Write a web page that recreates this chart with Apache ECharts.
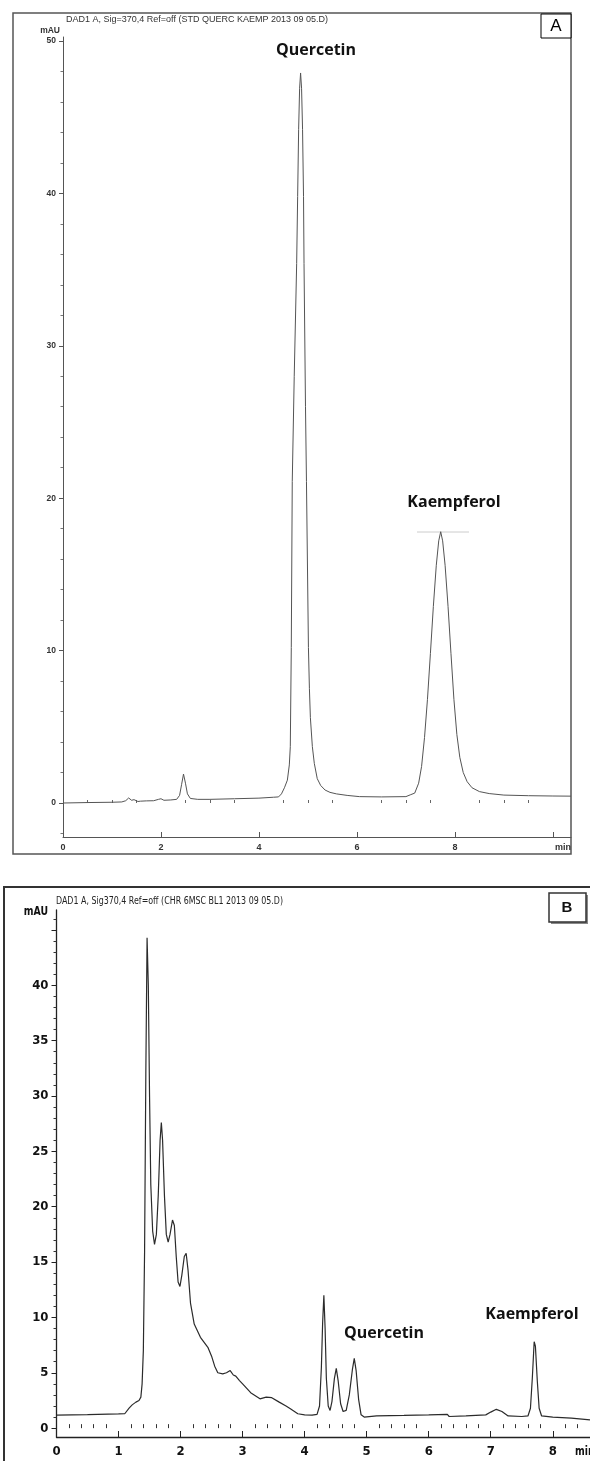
<!DOCTYPE html>
<html>
<head>
<meta charset="utf-8">
<script src="https://cdn.jsdelivr.net/npm/echarts@6/dist/echarts.min.js"></script>
<style>
html,body{margin:0;padding:0;background:#fff;}
#c{width:590px;height:1461px;}
</style>
</head>
<body>
<div id="c"></div>
<script>
// ---------- Panel A : standard (retention time min, absorbance mAU) ----------
const timeA = [0.00,0.50,1.00,1.20,1.28,1.34,1.40,1.45,1.49,1.53,1.58,1.70,1.85,1.95,2.00,2.06,2.20,2.32,2.38,2.42,2.46,2.50,2.54,2.60,2.75,3.00,3.50,4.00,4.30,4.40,4.46,4.52,4.58,4.62,4.64,4.66,4.68,4.72,4.77,4.79,4.81,4.83,4.85,4.87,4.89,4.91,4.92,4.95,4.97,5.01,5.03,5.05,5.09,5.13,5.19,5.26,5.35,5.45,5.58,5.80,6.05,6.50,7.00,7.10,7.18,7.26,7.32,7.38,7.44,7.50,7.56,7.62,7.67,7.71,7.75,7.80,7.86,7.92,7.98,8.04,8.10,8.17,8.25,8.35,8.50,8.70,9.00,9.50,10.00,10.37];
const signalA = [0.00,0.03,0.05,0.07,0.15,0.33,0.18,0.22,0.28,0.10,0.12,0.14,0.15,0.24,0.28,0.18,0.20,0.24,0.50,1.20,1.90,1.30,0.60,0.30,0.24,0.24,0.28,0.32,0.38,0.40,0.60,1.00,1.50,2.50,3.70,10.2,21.1,28.0,35.4,39.8,44.2,46.9,47.9,46.9,44.2,39.8,35.4,26.0,21.1,10.2,7.5,5.6,3.7,2.6,1.6,1.15,0.85,0.70,0.60,0.50,0.42,0.40,0.42,0.55,0.65,1.3,2.4,4.3,6.8,9.8,12.9,15.6,17.2,17.8,17.2,15.6,12.9,9.8,6.8,4.5,3.0,2.0,1.4,1.0,0.75,0.62,0.52,0.48,0.46,0.45];

// ---------- Panel B : sample ----------
const timeB = [0.00,0.50,1.00,1.10,1.13,1.17,1.22,1.28,1.33,1.36,1.38,1.40,1.42,1.44,1.46,1.48,1.50,1.52,1.55,1.58,1.61,1.64,1.67,1.69,1.71,1.74,1.77,1.80,1.83,1.87,1.90,1.93,1.96,1.99,2.02,2.06,2.09,2.12,2.16,2.22,2.32,2.44,2.50,2.55,2.60,2.68,2.74,2.80,2.85,2.89,2.95,3.00,3.13,3.28,3.38,3.47,3.59,3.70,3.77,3.89,4.00,4.12,4.20,4.24,4.27,4.29,4.31,4.33,4.35,4.38,4.41,4.44,4.48,4.51,4.54,4.58,4.62,4.67,4.72,4.77,4.80,4.83,4.87,4.91,4.96,5.16,5.60,6.00,6.30,6.33,6.60,6.92,7.00,7.09,7.18,7.28,7.50,7.60,7.64,7.67,7.70,7.72,7.75,7.78,7.82,8.00,8.30,8.60];
const signalB = [1.18,1.22,1.28,1.30,1.45,1.8,2.1,2.35,2.5,2.8,4.0,7.0,16,32,44.3,40,30,22,17.8,16.6,17.5,21,26,27.6,26,21,17.5,16.8,17.5,18.8,18.3,15.5,13.2,12.8,13.8,15.5,15.8,14.3,11.3,9.4,8.2,7.3,6.5,5.6,5.0,4.9,5.0,5.2,4.8,4.7,4.3,4.0,3.2,2.65,2.8,2.75,2.35,2.0,1.75,1.3,1.2,1.18,1.25,2.0,5.5,9.5,12.0,9.0,4.5,2.0,1.6,2.4,4.5,5.4,4.3,2.2,1.5,1.6,3.0,5.3,6.3,5.2,2.6,1.2,1.0,1.1,1.15,1.2,1.24,1.05,1.1,1.2,1.45,1.7,1.5,1.1,1.05,1.1,1.8,4.5,7.8,7.4,4.3,1.8,1.1,1.0,0.9,0.75];

// ---------- ticks ----------
const xLabelsA = [0,2,4,6,8];
const xMajorA = [0,2,4,6,8,10];
const yLabelsA = [0,10,20,30,40,50];
const xLabelsB = [0,1,2,3,4,5,6,7,8];
const yLabelsB = [0,5,10,15,20,25,30,35,40];
const yMajorB = [0,5,10,15,20,25,30,35,40,45];

function minorTicks(from, to, step, majors){
  const out=[];
  for(let v=from; v<=to+1e-9; v+=step){
    const r=Math.round(v*100)/100;
    if(!majors.some(m=>Math.abs(m-r)<1e-6)) out.push(r);
  }
  return out;
}
const xMinorA = minorTicks(0,10.3,0.5,xMajorA);
const yMinorA = minorTicks(-2,50,2,yLabelsA);
const xMinorB = minorTicks(0,8.6,0.2,xLabelsB);
const yMinorB = minorTicks(0,46,1,yMajorB);

const pairs = (t,v)=>t.map((x,i)=>[x,v[i]]);

const fA = 'Liberation Sans, Arial, sans-serif';
const fB = '"Liberation Sans Narrow", "DejaVu Sans Condensed", "Liberation Sans", sans-serif';
const fL = '"Open Sans", "Noto Sans", sans-serif';

const chart = echarts.init(document.getElementById('c'), null, {width:590, height:1461});

function axisBase(grid, min, max, color){
  return {gridIndex:grid, type:'value', min:min, max:max, splitLine:{show:false},
    axisLine:{show:true, onZero:false, lineStyle:{color:color, width:1}}};
}

const option = {
  backgroundColor:'#ffffff',
  animation:false,
  grid:[
    {left:63, top:37, width:508, height:800, outerBoundsMode:'none', containLabel:false},
    {left:56.5, top:910, width:533.5, height:527, outerBoundsMode:'none', containLabel:false}
  ],
  xAxis:[
    Object.assign(axisBase(0,0,10.37,'#555'),{position:'bottom',
      axisTick:{inside:true,length:5,lineStyle:{color:'#555'},customValues:xMajorA},
      axisLabel:{customValues:xLabelsA,margin:6,fontSize:9,fontWeight:'bold',color:'#333',fontFamily:fA}}),
    Object.assign(axisBase(0,0,10.37,'#555'),{position:'bottom',axisLine:{show:false},
      axisTick:{inside:true,length:3,lineStyle:{color:'#666'},customValues:xMinorA},
      axisLabel:{show:false}}),
    Object.assign(axisBase(1,0,8.6,'#222'),{position:'bottom',
      axisLine:{show:true,onZero:false,lineStyle:{color:'#222',width:1.3}},
      axisTick:{inside:true,length:6,lineStyle:{color:'#222'},customValues:xLabelsB},
      axisLabel:{customValues:xLabelsB,margin:8,fontSize:13,fontWeight:'bold',color:'#111',fontFamily:fB}}),
    Object.assign(axisBase(1,0,8.6,'#222'),{position:'bottom',axisLine:{show:false},
      axisTick:{inside:true,length:4,lineStyle:{color:'#333'},customValues:xMinorB},
      axisLabel:{show:false}})
  ],
  yAxis:[
    Object.assign(axisBase(0,-2.23,50.26,'#555'),{position:'left',
      axisTick:{inside:false,length:4,lineStyle:{color:'#555'},customValues:yLabelsA},
      axisLabel:{customValues:yLabelsA,margin:7,fontSize:8.5,fontWeight:'bold',color:'#333',fontFamily:fA}}),
    Object.assign(axisBase(0,-2.23,50.26,'#555'),{position:'left',axisLine:{show:false},
      axisTick:{inside:false,length:2.5,lineStyle:{color:'#777'},customValues:yMinorA},
      axisLabel:{show:false}}),
    Object.assign(axisBase(1,-0.8,46.8,'#222'),{position:'left',
      axisLine:{show:true,onZero:false,lineStyle:{color:'#222',width:1.3}},
      axisTick:{inside:false,length:5,lineStyle:{color:'#222'},customValues:yMajorB},
      axisLabel:{customValues:yLabelsB,margin:8,fontSize:13,fontWeight:'bold',color:'#111',fontFamily:fB}}),
    Object.assign(axisBase(1,-0.8,46.8,'#222'),{position:'left',axisLine:{show:false},
      axisTick:{inside:false,length:3,lineStyle:{color:'#333'},customValues:yMinorB},
      axisLabel:{show:false}})
  ],
  series:[
    {type:'line', xAxisIndex:0, yAxisIndex:0, data:pairs(timeA,signalA), showSymbol:false, symbol:'none',
     lineStyle:{color:'#555',width:1}, silent:true},
    {type:'line', xAxisIndex:2, yAxisIndex:2, data:pairs(timeB,signalB), showSymbol:false, symbol:'none',
     lineStyle:{color:'#2b2b2b',width:1.2}, silent:true}
  ],
  graphic:[
    // Panel A frame
    {type:'rect', shape:{x:13,y:13,width:558,height:841}, style:{fill:'none',stroke:'#555',lineWidth:1.5}, z:-1},
    {type:'rect', shape:{x:541,y:14,width:30,height:24}, style:{fill:'#fff',stroke:'#000',lineWidth:1}},
    {type:'text', x:556, y:26, style:{text:'A', font:'17px '+fA, fill:'#000', align:'center', verticalAlign:'middle'}},
    {type:'text', x:66, y:20, style:{text:'DAD1 A, Sig=370,4 Ref=off (STD QUERC KAEMP 2013 09 05.D)', font:'9px '+fA, fill:'#333', verticalAlign:'middle'}},
    {type:'text', x:60, y:31, style:{text:'mAU', font:'bold 8.5px '+fA, fill:'#333', align:'right', verticalAlign:'middle'}},
    {type:'text', x:571, y:848, style:{text:'min', font:'bold 9px '+fA, fill:'#333', align:'right', verticalAlign:'middle'}},
    {type:'text', x:316, y:50, style:{text:'Quercetin', font:'bold 16px '+fL, fill:'#111', align:'center', verticalAlign:'middle'}},
    {type:'text', x:454, y:502, style:{text:'Kaempferol', font:'bold 16px '+fL, fill:'#111', align:'center', verticalAlign:'middle'}},
    {type:'line', shape:{x1:417,y1:532,x2:469,y2:532}, style:{stroke:'#ccc',lineWidth:1}},
    // Panel B frame
    {type:'rect', shape:{x:4,y:887,width:620,height:620}, style:{fill:'none',stroke:'#333',lineWidth:2}, z:-1},
    {type:'rect', shape:{x:551,y:895,width:37,height:29}, style:{fill:'#888',stroke:'none'}},
    {type:'rect', shape:{x:549,y:893,width:37,height:29}, style:{fill:'#fff',stroke:'#333',lineWidth:1.5}},
    {type:'text', x:567, y:908, style:{text:'B', font:'bold 15px '+fA, fill:'#111', align:'center', verticalAlign:'middle'}},
    {type:'text', x:56, y:901, scaleX:0.8, style:{text:'DAD1 A, Sig370,4 Ref=off (CHR 6MSC BL1 2013 09 05.D)', font:'11px '+fB, fill:'#222', verticalAlign:'middle'}},
    {type:'text', x:48, y:912, scaleX:0.8, style:{text:'mAU', font:'bold 13px '+fB, fill:'#111', align:'right', verticalAlign:'middle'}},
    {type:'text', x:575, y:1452, scaleX:0.8, style:{text:'min', font:'bold 13px '+fB, fill:'#111', align:'left', verticalAlign:'middle'}},
    {type:'text', x:384, y:1333, style:{text:'Quercetin', font:'bold 16px '+fL, fill:'#111', align:'center', verticalAlign:'middle'}},
    {type:'text', x:532, y:1314, style:{text:'Kaempferol', font:'bold 16px '+fL, fill:'#111', align:'center', verticalAlign:'middle'}}
  ]
};
chart.setOption(option);
</script>
</body>
</html>
